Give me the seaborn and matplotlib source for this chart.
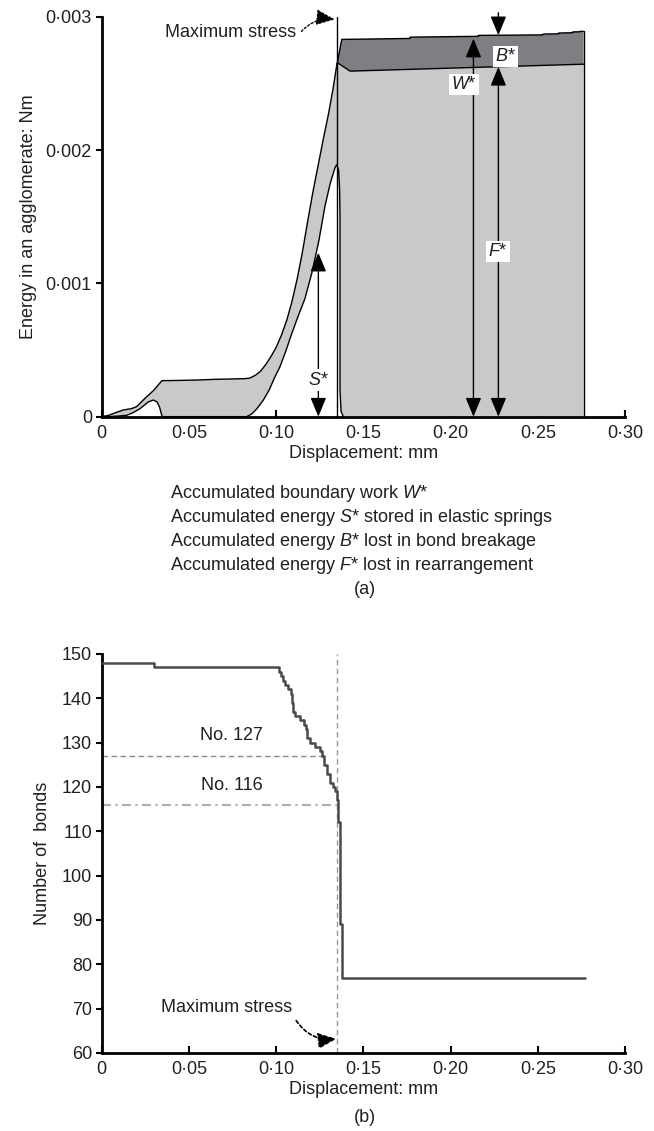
import matplotlib
matplotlib.use("Agg")
import matplotlib.pyplot as plt
import seaborn as sns
import pandas as pd

# ---------------- panel (a) data ----------------
# boundary work W* before the peak
w_pre_x = [0, 0.004, 0.008, 0.0124, 0.017, 0.020, 0.025, 0.030, 0.0345, 0.045, 0.055,
           0.065, 0.075, 0.082, 0.085, 0.088, 0.091, 0.094, 0.097, 0.100, 0.103, 0.106,
           0.109, 0.112, 0.115, 0.118, 0.121, 0.124, 0.127, 0.130, 0.1325, 0.1349]
w_pre_y = [0, 0.00001, 0.00003, 0.00005, 0.00006, 0.000075, 0.00014, 0.00020, 0.00027,
           0.000272, 0.000275, 0.00028, 0.000283, 0.000285, 0.00029, 0.00031, 0.00034,
           0.00039, 0.00045, 0.00052, 0.00061, 0.00072, 0.00086, 0.00103, 0.00123,
           0.00146, 0.00168, 0.00188, 0.00208, 0.00227, 0.00245, 0.00265]
# boundary work W* after the peak (top of dark band)
w_post_x = [0.1350, 0.1376, 0.1768, 0.1768, 0.216, 0.216, 0.253, 0.253, 0.262, 0.262,
            0.270, 0.270, 0.274, 0.274, 0.2762]
w_post_y = [0.00265, 0.00283, 0.002837, 0.002847, 0.002853, 0.00286, 0.002864, 0.002870,
            0.002872, 0.002878, 0.002880, 0.002886, 0.002887, 0.00289, 0.00289]
# energy stored in springs S*
s_x = [0, 0.004, 0.010, 0.0143, 0.018, 0.022, 0.0267, 0.0296, 0.0318, 0.0332, 0.0342,
       0.0348, 0.0831, 0.086, 0.089, 0.0927, 0.096, 0.099, 0.1022, 0.1055, 0.109,
       0.1125, 0.1165, 0.1205, 0.1245, 0.128, 0.131, 0.1338, 0.1347, 0.1358, 0.1364,
       0.1366, 0.1366, 0.1372, 0.1385]
s_y = [0, 0, 0.000005, 0.00001, 0.00003, 0.00006, 0.00011, 0.000125, 0.00011, 0.00007,
       0.00002, 0, 0, 0.00002, 0.00006, 0.000125, 0.00020, 0.00029, 0.000375, 0.00049,
       0.000625, 0.00075, 0.000885, 0.00108, 0.00132, 0.00158, 0.00175, 0.00187,
       0.00189, 0.00185, 0.00170, 0.00150, 0.00020, 0.00004, 0]
# energy lost in rearrangement F* (after the peak)
f_x = [0.1350, 0.1357, 0.1424, 0.2762]
f_y = [0.00265, 0.00265, 0.002592, 0.002644]
x_end = 0.2762
x_peak = 0.135

x_ticks = [0, 0.05, 0.10, 0.15, 0.20, 0.25, 0.30]
x_ticklabels = ["0", "0·05", "0·10", "0·15", "0·20", "0·25", "0·30"]
ya_ticks = [0, 0.001, 0.002, 0.003]
ya_ticklabels = ["0", "0·001", "0·002", "0·003"]

# arrows: (x, y_from, y_to)
arrow_S = (0.1242, 0.0, 0.00123)
arrow_W = (0.2131, 0.0, 0.002836)
arrow_F = (0.2274, 0.0, 0.002624)
arrow_B = (0.2274, 0.00303, 0.002861)

legend_lines = [r"Accumulated boundary work $W$*",
                r"Accumulated energy $S$* stored in elastic springs",
                r"Accumulated energy $B$* lost in bond breakage",
                r"Accumulated energy $F$* lost in rearrangement"]

# ---------------- panel (b) data ----------------
bond_x = [0, 0.030, 0.1018, 0.1028, 0.1040, 0.1052, 0.1068, 0.1085, 0.1092, 0.1095,
          0.1110, 0.1135, 0.1162, 0.1172, 0.1176, 0.1195, 0.1220, 0.1250, 0.1265,
          0.1272, 0.1290, 0.1310, 0.1328, 0.1340, 0.1348, 0.1357, 0.1366, 0.1376, 0.277]
bond_n = [148, 147, 146, 145, 144, 143, 142, 141, 139, 137,
          136, 135, 134, 133, 131, 130, 129, 128, 127,
          125, 123, 121, 120, 119, 117, 112, 89, 77, 77]
yb_ticks = [60, 70, 80, 90, 100, 110, 120, 130, 140, 150]
ref127 = (127, 0.1268)
ref116 = (116, 0.1357)

# ---------------- style ----------------
sns.set_theme(style="ticks")
plt.rcParams['font.family'] = ['Liberation Sans', 'DejaVu Sans']
plt.rcParams['mathtext.fontset'] = 'custom'
plt.rcParams['mathtext.it'] = 'Liberation Sans:italic'
plt.rcParams['mathtext.rm'] = 'Liberation Sans'
plt.rcParams['font.size'] = 13

LIGHT = "#c8c9cb"
DARK = "#7e7f82"
TXT = "#231f20"

fig = plt.figure(figsize=(6.54, 11.31), dpi=100)
ax1 = fig.add_axes([0.1555, 0.6316, 0.8002, 0.3536])
ax2 = fig.add_axes([0.1555, 0.0690, 0.8002, 0.3528])

def style_axes(ax):
    for s in ["top", "right"]:
        ax.spines[s].set_visible(False)
    for s in ["left", "bottom"]:
        ax.spines[s].set_linewidth(2.0)
        ax.spines[s].set_color("black")
    ax.tick_params(axis="x", direction="in", length=5, width=1.5, labelsize=13,
                   pad=6, colors="black", labelcolor=TXT)
    ax.tick_params(axis="y", direction="out", length=4, width=1.5, labelsize=13,
                   pad=3, colors="black", labelcolor=TXT)
    ax.set_xlim(0, 0.30)
    ax.set_xticks(x_ticks)
    ax.set_xticklabels(x_ticklabels)

# ---------------- panel (a) ----------------
poly_x = w_pre_x + f_x[1:] + [x_end] + s_x[::-1]
poly_y = w_pre_y + f_y[1:] + [0] + s_y[::-1]
ax1.fill(poly_x, poly_y, color=LIGHT, lw=0, zorder=1)
dk_x = w_post_x + f_x[::-1]
dk_y = w_post_y + f_y[::-1]
ax1.fill(dk_x, dk_y, color=DARK, lw=0, zorder=1)

line_kw = dict(color="black", lw=1.0, sort=False, estimator=None, legend=False, zorder=3)
sns.lineplot(x=w_pre_x, y=w_pre_y, ax=ax1, **line_kw)
sns.lineplot(x=w_post_x, y=w_post_y, ax=ax1, **line_kw)
sns.lineplot(x=s_x, y=s_y, ax=ax1, **line_kw)
sns.lineplot(x=f_x, y=f_y, ax=ax1, **line_kw)
ax1.plot([x_end, x_end], [0, w_post_y[-1]], color="black", lw=1.0, zorder=3)
ax1.plot([x_peak, x_peak], [0, 0.003], color="black", lw=1.0, zorder=3)

style_axes(ax1)
ax1.set_ylim(0, 0.003)
ax1.set_yticks(ya_ticks)
ax1.set_yticklabels(ya_ticklabels)
ax1.set_xlabel("Displacement: mm", fontsize=13, color=TXT, labelpad=2)
ax1.set_ylabel("Energy in an agglomerate: Nm", fontsize=13, color=TXT, labelpad=6)

ahead = "<|-|>,head_length=0.65,head_width=0.27"
def darrow(ax, a, style=ahead):
    x, y0, y1 = a
    ax.annotate("", xy=(x, y1), xytext=(x, y0),
                arrowprops=dict(arrowstyle=style, color="black", lw=1.0,
                                mutation_scale=18, shrinkA=0, shrinkB=0),
                annotation_clip=False, zorder=4)

darrow(ax1, arrow_S)
darrow(ax1, arrow_W)
darrow(ax1, arrow_F)
darrow(ax1, arrow_B, style="-|>,head_length=0.65,head_width=0.27")

box = dict(facecolor="white", edgecolor="none", pad=1.5)
ax1.text(arrow_S[0], 0.000275, "$S$*", ha="center", va="center", fontsize=13,
         color=TXT, bbox=box, zorder=5)
ax1.text(0.2078, 0.00249, "$W$*", ha="center", va="center", fontsize=13,
         color=TXT, bbox=box, zorder=5)
ax1.text(arrow_F[0], 0.00124, "$F$*", ha="center", va="center", fontsize=13,
         color=TXT, bbox=box, zorder=5)
ax1.text(0.2317, 0.00270, "$B$*", ha="center", va="center", fontsize=13,
         color=TXT, bbox=box, zorder=5)

ax1.text(0.0736, 0.00288, "Maximum stress", ha="center", va="center", fontsize=13,
         color=TXT)
ax1.annotate("", xy=(0.1335, 0.00298), xytext=(0.1145, 0.00289),
             arrowprops=dict(arrowstyle="-|>,head_length=0.7,head_width=0.3",
                             color="black", lw=1.0, ls=(0, (1.5, 1.5)),
                             mutation_scale=16, shrinkA=0, shrinkB=0,
                             connectionstyle="arc3,rad=-0.25"),
             annotation_clip=False)

for i, t in enumerate(legend_lines):
    fig.text(170 / 654, 1 - (493 + 24.3 * i) / 1131, t, ha="left", va="center",
             fontsize=13, color=TXT)
fig.text(365 / 654, 1 - 590 / 1131, "(a)", ha="center", va="center", fontsize=13,
         color=TXT)

# ---------------- panel (b) ----------------
df_b = pd.DataFrame({"disp": bond_x, "bonds": bond_n})
sns.lineplot(data=df_b, x="disp", y="bonds", ax=ax2, drawstyle="steps-post",
             color="#4a4a4a", lw=1.8, sort=False, estimator=None, zorder=3)
ax2.plot([x_peak, x_peak], [60, 150], color="#9a9a9a", lw=1.0, ls=(0, (4, 2.5)), zorder=2)
ax2.plot([0, ref127[1]], [ref127[0], ref127[0]], color="#8a8a8a", lw=1.0,
         ls=(0, (4, 2.5)), zorder=2)
ax2.plot([0, ref116[1]], [ref116[0], ref116[0]], color="#b0b0b0", lw=1.6,
         ls=(0, (4, 2, 1, 2)), zorder=2)
ax2.text(0.0745, 131.5, "No. 127", ha="center", va="center", fontsize=13, color=TXT)
ax2.text(0.0745, 120.3, "No. 116", ha="center", va="center", fontsize=13, color=TXT)
ax2.text(0.0715, 70.3, "Maximum stress", ha="center", va="center", fontsize=13, color=TXT)
ax2.annotate("", xy=(0.1345, 63.2), xytext=(0.1115, 67.3),
             arrowprops=dict(arrowstyle="-|>,head_length=0.7,head_width=0.3",
                             color="black", lw=1.2, ls=(0, (2, 1.5)),
                             mutation_scale=16, shrinkA=0, shrinkB=0,
                             connectionstyle="arc3,rad=0.3"))

style_axes(ax2)
ax2.set_ylim(60, 150)
ax2.set_yticks(yb_ticks)
ax2.set_xlabel("Displacement: mm", fontsize=13, color=TXT, labelpad=2)
ax2.set_ylabel("Number of  bonds", fontsize=13, color=TXT, labelpad=8)
fig.text(365 / 654, 1 - 1118 / 1131, "(b)", ha="center", va="center", fontsize=13,
         color=TXT)

fig.savefig("out.png", dpi=100)
